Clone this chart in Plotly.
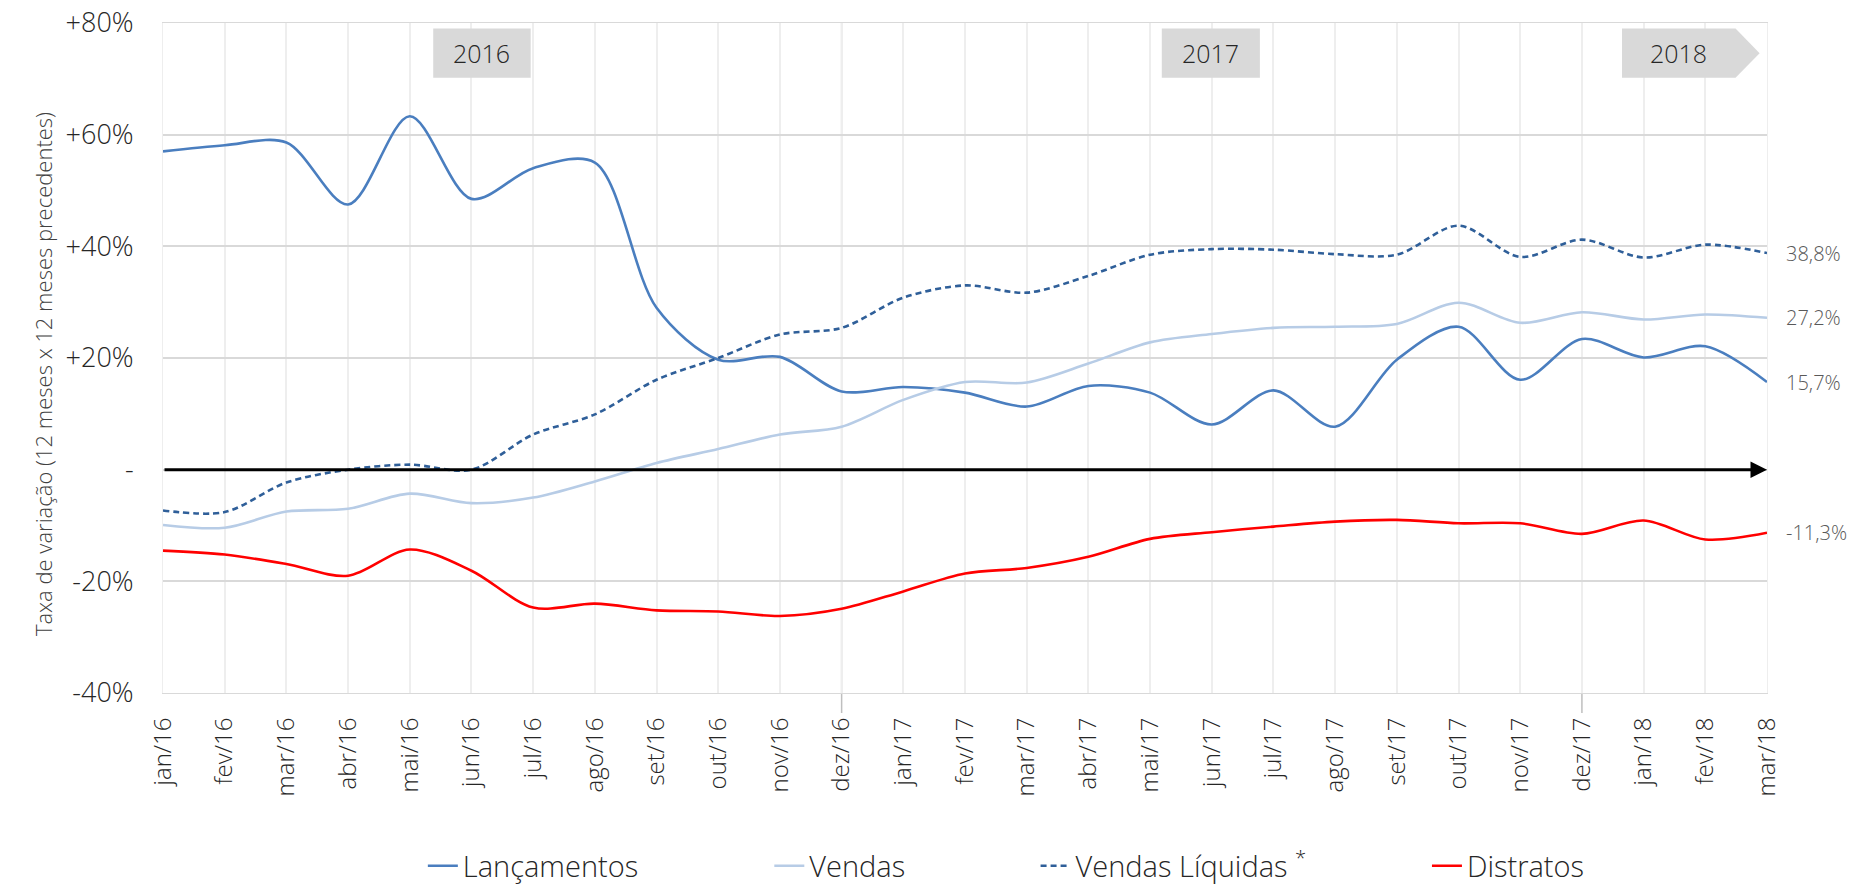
import plotly.graph_objects as go

months = ["jan/16","fev/16","mar/16","abr/16","mai/16","jun/16","jul/16","ago/16","set/16","out/16","nov/16","dez/16",
          "jan/17","fev/17","mar/17","abr/17","mai/17","jun/17","jul/17","ago/17","set/17","out/17","nov/17","dez/17",
          "jan/18","fev/18","mar/18"]

lancamentos = [57.0, 58.1, 58.6, 47.5, 63.3, 48.5, 54.0, 55.0, 29.0, 19.7, 20.2, 14.0,
               14.8, 13.8, 11.3, 15.0, 13.8, 8.1, 14.2, 7.7, 19.7, 25.6, 16.1, 23.4,
               20.1, 22.1, 15.7]
vendas = [-9.9, -10.4, -7.5, -7.0, -4.3, -6.0, -5.0, -2.1, 1.2, 3.7, 6.3, 7.7,
          12.5, 15.7, 15.6, 19.0, 22.8, 24.3, 25.4, 25.6, 26.1, 29.9, 26.3, 28.2,
          26.9, 27.8, 27.2]
vendas_liq = [-7.3, -7.6, -2.3, 0.0, 0.9, 0.0, 6.3, 9.9, 16.1, 20.0, 24.2, 25.4,
              30.8, 33.0, 31.7, 34.7, 38.5, 39.5, 39.4, 38.6, 38.5, 43.7, 38.1, 41.2,
              38.0, 40.3, 38.8]
distratos = [-14.5, -15.2, -16.9, -19.0, -14.3, -18.1, -24.7, -24.0, -25.2, -25.4, -26.2, -24.9,
             -21.8, -18.6, -17.6, -15.6, -12.4, -11.2, -10.2, -9.3, -9.0, -9.6, -9.6, -11.5,
             -9.1, -12.5, -11.3]

end_labels = ["38,8%", "27,2%", "15,7%", "-11,3%"]
ytick_vals = [-40, -20, 0, 20, 40, 60, 80]
ytick_text = ["-40%", "-20%", "-", "+20%", "+40%", "+60%", "+80%"]
years = ["2016", "2017", "2018"]

x = list(range(len(months)))
FONT = "Open Sans"
W = 300

fig = go.Figure()
series = [
    ("Lançamentos", lancamentos, "#4A7EBF", None, "legend", 0.162),
    ("Vendas", vendas, "#B7CCE6", None, "legend2", 0.378),
    ("Vendas Líquidas <sup>*</sup>", vendas_liq, "#2F5F99", "6px,4px", "legend3", 0.544),
    ("Distratos", distratos, "#FF0000", None, "legend4", 0.788),
]
legends = {}
for name, vals, col, dash, lg, lx in series:
    fig.add_trace(go.Scatter(
        x=x, y=vals, name=name, mode="lines", legend=lg,
        line=dict(color=col, width=2.6, shape="spline", smoothing=0.9, dash=dash),
        hoverinfo="skip"))
    legends[lg] = dict(orientation="h", x=lx, xanchor="left", y=-0.258, yanchor="middle",
                       font=dict(family=FONT, size=29, color="#262626", weight=W),
                       itemwidth=30, bgcolor="rgba(0,0,0,0)")

# end-of-series labels
for vals, lab in zip([vendas_liq, vendas, lancamentos, distratos], end_labels):
    fig.add_annotation(x=x[-1], y=vals[-1], text=lab, showarrow=False, xanchor="left",
                       xshift=18, borderpad=0,
                       font=dict(family=FONT, size=20, color="#595959", weight=W))

# zero line with arrow
fig.add_annotation(x=x[-1], y=0, ax=x[0], ay=0, axref="x", ayref="y", xref="x", yref="y",
                   text="", showarrow=True, arrowhead=2, arrowsize=1.1, arrowwidth=3,
                   arrowcolor="#000000")

# year separators
for xi in [11, 23]:
    fig.add_shape(type="line", x0=xi, x1=xi, y0=-0.03, y1=1, xref="x", yref="paper",
                  line=dict(color="#BFBFBF", width=1.5), layer="below")

# year boxes
box_fill = "#D9D9D9"
fig.add_shape(type="rect", x0=4.38, x1=5.96, y0=70.2, y1=79.0, xref="x", yref="y",
              fillcolor=box_fill, line=dict(width=0), layer="above")
fig.add_shape(type="rect", x0=16.19, x1=17.78, y0=70.2, y1=79.0, xref="x", yref="y",
              fillcolor=box_fill, line=dict(width=0), layer="above")
fig.add_shape(type="path", path="M 23.65,70.2 L 25.49,70.2 L 25.88,74.6 L 25.49,79.0 L 23.65,79.0 Z",
              xref="x", yref="y", fillcolor=box_fill, line=dict(width=0), layer="above")
for xc, yr in zip([5.17, 16.98, 24.57], years):
    fig.add_annotation(x=xc, y=74.6, text=yr, showarrow=False,
                       font=dict(family=FONT, size=25, color="#262626", weight=W))

# y axis title
fig.add_annotation(text="Taxa de variação (12 meses x 12 meses precedentes)", textangle=-90,
                   xref="paper", yref="paper", x=0, y=0.476, xshift=-137, showarrow=False,
                   font=dict(family=FONT, size=22, color="#404040", weight=W))

fig.update_layout(
    width=1840, height=876,
    margin=dict(l=155, r=81, t=15, b=191, autoexpand=False),
    paper_bgcolor="white", plot_bgcolor="white",
    font=dict(family=FONT, color="#404040"),
    showlegend=True,
    xaxis=dict(range=[0, 26], tickvals=x, ticktext=months, tickangle=-90,
               showgrid=True, gridcolor="#EEEEEE", gridwidth=1.5, zeroline=False,
               tickfont=dict(family=FONT, size=24, color="#262626", weight=W),
               ticks="outside", ticklen=14, tickcolor="rgba(0,0,0,0)",
               showline=True, linecolor="#D9D9D9", mirror=True,
               ticklabeloverflow="allow"),
    yaxis=dict(range=[-40, 80], tickvals=ytick_vals, ticktext=ytick_text,
               showgrid=True, gridcolor="#D9D9D9", gridwidth=1.5, zeroline=False,
               tickfont=dict(family=FONT, size=27, color="#262626", weight=W),
               ticks="outside", ticklen=23, tickcolor="rgba(0,0,0,0)",
               showline=True, linecolor="#EEEEEE", mirror=True,
               ticklabeloverflow="allow"),
    **legends,
)

fig.write_html("out.html")
